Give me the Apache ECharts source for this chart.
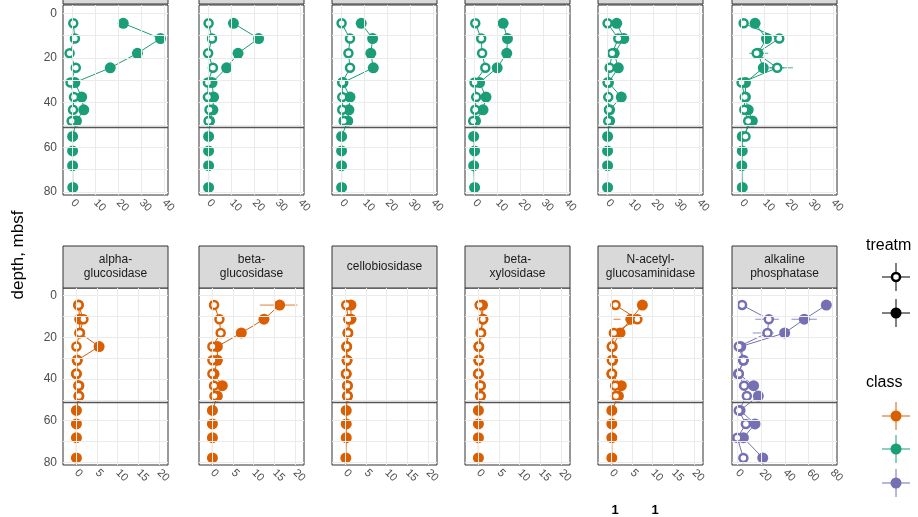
<!DOCTYPE html>
<html>
<head>
<meta charset="utf-8">
<script src="https://cdn.jsdelivr.net/npm/echarts@6/dist/echarts.min.js"></script>
<style>html,body{margin:0;padding:0;background:#fff}#chart{width:918px;height:517px}</style>
</head>
<body>
<div id="chart"></div>
<script>
var depths = [4.5, 11.3, 17.9, 24.4, 31, 37.5, 43.2, 48.2, 55.1, 61.6, 68.2, 77.9];
var depthTicks = [0, 20, 40, 60, 80];
var topTicks = [0, 10, 20, 30, 40];
var botTicks = [0, 5, 10, 15, 20];
var alkTicks = [0, 20, 40, 60, 80];
var stripTitles = ['alpha-\nglucosidase', 'beta-\nglucosidase', 'cellobiosidase', 'beta-\nxylosidase', 'N-acetyl-\nglucosaminidase', 'alkaline\nphosphatase'];

// top row (green)
var top1Filled = [22.2, 38.5, 28.4, 16.5, 1, 4, 4.9, 1.7, 0, 0, 0, 0.1];
var top1Open = [0.3, 1, -1.3, 1.4, -0.9, 0.6, 0.2, -0.4];
var top2Filled = [10.9, 21.9, 12.9, 7.9, 1.5, 2.2, 1.9, 0.4, 0, 0, 0, 0];
var top2Open = [0, 1.5, -0.2, 1.9, -0.3, -0.3, 0.4, 0];
var top3Filled = [8.6, 13.6, 12.8, 13.9, 0.6, 3.7, 3.2, 2.7, 0, 0, 0, 0];
var top3Open = [0, 3.7, 3, 3.7, 0.3, 0.3, 0.3, 0.9];
var top4Filled = [12.5, 14.4, 14.1, 9.9, 2.2, 5, 3.7, 0.4, -0.4, 0, -0.4, 0];
var top4Open = [0.3, 2.9, 3.3, 4.7, 0, 0.7, 0.3, -0.6];
var top5Filled = [4, 7.1, 2.9, 4.7, 0.4, 6, 0.9, 0.9, 0, 0, 0, 0];
var top5Open = [0, 4.7, 2, 0.9, 0, 0.3, 0.6, 0.3];
var top6Filled = [5.9, 10.9, 7.2, 9.5, 1.7, 1.7, 2.9, 4.7, 0.3, 0.3, 0.1, 0.3];
var top6Open = [0.9, 16.5, 6.6, 15.6, 0, 1.4, 1.2, 2.9, 1.7];

// bottom row
var alphaFilled = [0.5, 0.8, 0.8, 5.5, 0.2, 0, 0.6, 0.6, 0, 0, 0, 0];
var alphaOpen = [0.5, 1.7, 0.8, 0, 0.2, 0, 0.5, 0.6];
var betaGFilled = [16.3, 12.5, 7, 1.2, 1.2, 0.4, 2.4, 1.2, 0, 0, 0, 0];
var betaGOpen = [0.4, 1.7, 2, 0, 0, 0, 0.4, 0.5];
var celloFilled = [1.35, 1.35, 0.6, 0.3, 0.4, 0.2, 0.5, 0.5, 0.2, 0.2, 0.2, 0.1];
var celloOpen = [0.2, 0.7, 0.6, 0.3, 0.4, 0.2, 0.5, 0.5];
var xyloFilled = [1, 1.1, 0.6, 0.1, 0.1, 0, 0.5, 0.5, 0, 0, 0, 0];
var xyloOpen = [0.3, 1.1, 0.6, 0.1, 0.1, 0, 0.5, 0.5];
var nagFilled = [7.5, 4.7, 2.1, 0.2, 0.3, 0.1, 2.4, 1.7, 0.1, 0.1, 0.1, 0.1];
var nagOpen = [1, 6.3, 0.6, 0.1, 0.1, 0.1, 0.9, 1.1];
var alkFilled = [75, 56.4, 39.9, 2.9, 5.1, 0.9, 13.7, 17.7, 2.3, 14.9, 5.1, 21.4];
var alkOpen = [4, 26.5, 25.4, 1.2, 5.1, 1.2, 5.7, 8, 1.2, 7.2, 0, 5.1];

// error bars: [panel, low, high, depth index]
var errorBars = [
  [5, 3.3, 11.7, 2], [5, 12.2, 18.6, 3], [5, 12.2, 22.5, 3],
  [7, 11.5, 20.6, 0],
  [10, 0.5, 2.2, 1],
  [11, 45.6, 67, 1], [11, 15.1, 35, 1], [11, 13, 30.8, 2]
];

var GREEN = '#1B9E77', ORANGE = '#D95F02', PURPLE = '#7570B3';
var panels = [
  [top1Filled, top1Open, GREEN], [top2Filled, top2Open, GREEN], [top3Filled, top3Open, GREEN],
  [top4Filled, top4Open, GREEN], [top5Filled, top5Open, GREEN], [top6Filled, top6Open, GREEN],
  [alphaFilled, alphaOpen, ORANGE], [betaGFilled, betaGOpen, ORANGE], [celloFilled, celloOpen, ORANGE],
  [xyloFilled, xyloOpen, ORANGE], [nagFilled, nagOpen, ORANGE], [alkFilled, alkOpen, PURPLE]
];

var lefts = [63, 199, 332, 465, 598, 732];
var chart = echarts.init(document.getElementById('chart'));
var grids = [], xAxes = [], yAxes = [], series = [], graphics = [];

function pairs(vals) {
  return vals.map(function (v, i) { return [v, depths[i]]; });
}

panels.forEach(function (p, i) {
  var row = i < 6 ? 0 : 1;
  var col = i % 6;
  var top = row === 0 ? 5 : 288;
  grids.push({left: lefts[col], top: top, width: 105, height: row === 0 ? 190 : 177,
    show: true, borderColor: '#333', borderWidth: 1, backgroundColor: 'transparent'});
  var ticks = row === 0 ? topTicks : (col === 5 ? alkTicks : botTicks);
  var xr = row === 0 ? [-4.2, 41.8] : (col === 5 ? [-4.5, 84] : [-3.25, 22.2]);
  xAxes.push({type: 'value', gridIndex: i, min: xr[0], max: xr[1],
    axisLine: {show: false}, splitLine: {show: false},
    axisTick: {show: true, length: 4, customValues: ticks, lineStyle: {color: '#333'}},
    axisLabel: {customValues: ticks, rotate: -45, color: '#4d4d4d', fontSize: 11, margin: 6}});
  yAxes.push({type: 'value', gridIndex: i, inverse: true, min: -3.7, max: 81.3,
    axisLine: {show: false}, splitLine: {show: false},
    axisTick: {show: true, length: 4, customValues: depthTicks, lineStyle: {color: '#333'}},
    axisLabel: {show: col === 0, customValues: depthTicks, color: '#4d4d4d', fontSize: 12, margin: 6}});
  var gridLines = [];
  depthTicks.concat([10, 30, 50, 70]).forEach(function (d) { gridLines.push({yAxis: d}); });
  ticks.forEach(function (t) { gridLines.push({xAxis: t}); });
  series.push({type: 'line', xAxisIndex: i, yAxisIndex: i, data: [], silent: true,
    markLine: {silent: true, symbol: 'none', label: {show: false}, animation: false,
      lineStyle: {color: '#ebebeb', width: 1, type: 'solid'}, data: gridLines}});
  series.push({type: 'line', xAxisIndex: i, yAxisIndex: i, data: [], silent: true, z: 5,
    markLine: {silent: true, symbol: 'none', label: {show: false}, animation: false,
      lineStyle: {color: '#555', width: 1.3, type: 'solid'}, data: [{yAxis: 51}]}});
  series.push({type: 'line', xAxisIndex: i, yAxisIndex: i, data: pairs(p[0]), z: 3,
    symbol: 'circle', symbolSize: 11, animation: false,
    lineStyle: {color: p[2], width: 1}, itemStyle: {color: p[2]}});
  series.push({type: 'line', xAxisIndex: i, yAxisIndex: i, data: pairs(p[1]), z: 4,
    symbol: 'circle', symbolSize: 8, animation: false,
    lineStyle: {color: p[2], width: 1},
    itemStyle: {color: '#fff', borderColor: p[2], borderWidth: 2.5}});
  var eb = errorBars.filter(function (e) { return e[0] === i; });
  if (eb.length) {
    series.push({type: 'custom', xAxisIndex: i, yAxisIndex: i, z: 2, silent: true,
      data: eb.map(function (e) { return [e[1], e[2], depths[e[3]]]; }),
      renderItem: function (params, api) {
        var a = api.coord([api.value(0), api.value(2)]);
        var b = api.coord([api.value(1), api.value(2)]);
        return {type: 'line', shape: {x1: a[0], y1: a[1], x2: b[0], y2: b[1]},
          style: {stroke: p[2], lineWidth: 1, opacity: 0.8}};
      }});
  }
  if (row === 0) {
    graphics.push({type: 'rect', shape: {x: lefts[col], y: -2, width: 105, height: 6},
      style: {fill: '#d9d9d9', stroke: '#333', lineWidth: 1}});
  } else {
    graphics.push({type: 'rect', shape: {x: lefts[col], y: 246, width: 105, height: 42},
      style: {fill: '#d9d9d9', stroke: '#333', lineWidth: 1}});
    graphics.push({type: 'text', x: lefts[col] + 52.5, y: 267,
      style: {text: stripTitles[col], fill: '#1a1a1a', fontSize: 12, align: 'center',
        verticalAlign: 'middle', lineHeight: 14, fontFamily: 'Liberation Sans'}});
  }
});

graphics.push({type: 'text', x: 18, y: 255, rotation: Math.PI / 2,
  style: {text: 'depth, mbsf', fill: '#000', fontSize: 17, align: 'center', verticalAlign: 'middle', fontFamily: 'Liberation Sans'}});
graphics.push({type: 'text', x: 866, y: 246, style: {text: 'treatm', fill: '#000', fontSize: 16, verticalAlign: 'middle', fontFamily: 'Liberation Sans'}});
graphics.push({type: 'text', x: 866, y: 383, style: {text: 'class', fill: '#000', fontSize: 16, verticalAlign: 'middle', fontFamily: 'Liberation Sans'}});
function legendKey(y, color, open) {
  graphics.push({type: 'line', shape: {x1: 882, y1: y, x2: 910, y2: y}, style: {stroke: color, lineWidth: 1}});
  graphics.push({type: 'line', shape: {x1: 896, y1: y - 14, x2: 896, y2: y + 14}, style: {stroke: color, lineWidth: 1}});
  graphics.push({type: 'circle', shape: {cx: 896, cy: y, r: open ? 4 : 5.5},
    style: {fill: open ? '#fff' : color, stroke: color, lineWidth: open ? 2.5 : 0}});
}
legendKey(277, '#000', true);
legendKey(313, '#000', false);
legendKey(416, ORANGE, false);
legendKey(449, GREEN, false);
legendKey(483, PURPLE, false);
graphics.push({type: 'text', x: 615, y: 517, style: {text: '1', fill: '#000', fontSize: 13, fontWeight: 'bold', align: 'center', verticalAlign: 'bottom'}});
graphics.push({type: 'text', x: 655, y: 517, style: {text: '1', fill: '#000', fontSize: 13, fontWeight: 'bold', align: 'center', verticalAlign: 'bottom'}});

chart.setOption({
  backgroundColor: '#fff',
  animation: false,
  textStyle: {fontFamily: 'Liberation Sans'},
  grid: grids, xAxis: xAxes, yAxis: yAxes, series: series, graphic: graphics
});
</script>
</body>
</html>
